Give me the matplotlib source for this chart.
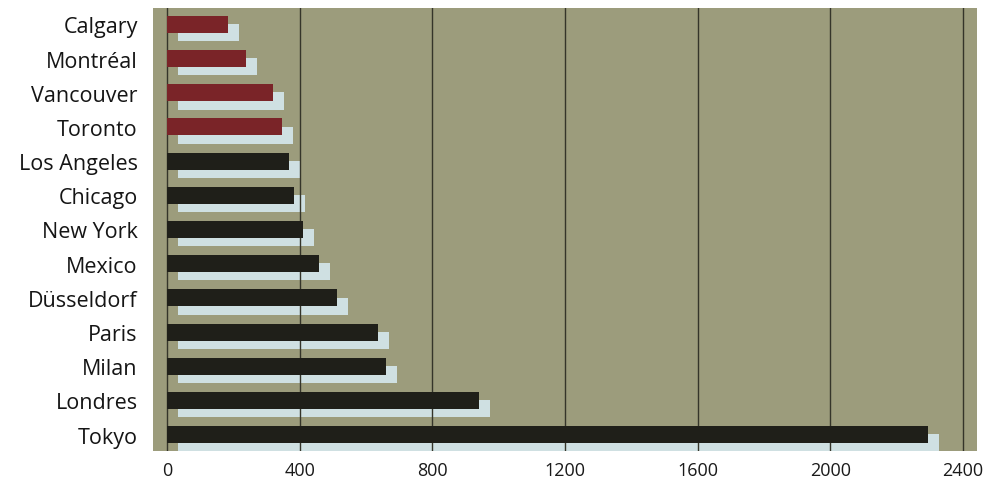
import numpy as np
import matplotlib
matplotlib.use('Agg')
import matplotlib.pyplot as plt

# villes et valeurs
villes = ['Calgary', 'Montréal', 'Vancouver', 'Toronto', 'Los Angeles', 'Chicago',
          'New York', 'Mexico', 'Düsseldorf', 'Paris', 'Milan', 'Londres', 'Tokyo']
valeurs = [184, 238, 320, 347, 368, 383, 410, 458, 512, 636, 660, 941, 2294]
canada = [True, True, True, True, False, False, False, False, False, False, False, False, False]
xticks = [0, 400, 800, 1200, 1600, 2000, 2400]

plt.rcParams['font.family'] = ['Open Sans', 'DejaVu Sans']

fig = plt.figure(figsize=(9.86, 4.89), dpi=100)
ax = fig.add_axes([153/986, 37/489, 824/986, 443/489])
ax.set_facecolor('#9c9c7c')

y = np.arange(len(villes))
couleurs = ['#7a2428' if c else '#1f1f19' for c in canada]

# ombre bleu clair decalee
ax.barh(y + 0.24, valeurs, left=33, height=0.5, color='#cfe0e2', zorder=1)
ax.barh(y, valeurs, height=0.5, color=couleurs, zorder=3)

for t in xticks:
    ax.axvline(t, color='#35352a', lw=1.0, zorder=2)

ax.set_xlim(-42, 2442)
ax.set_ylim(12.48, -0.48)
ax.set_xticks(xticks)
ax.set_xticklabels([str(t) for t in xticks], fontsize=13, color='#1a1a1a')
ax.set_yticks(y)
ax.set_yticklabels(villes, fontsize=15.5, color='#151515')
ax.tick_params(length=0)
ax.tick_params(axis='x', pad=7)
ax.tick_params(axis='y', pad=11)
for s in ax.spines.values():
    s.set_visible(False)

fig.savefig('out.png', dpi=100)
